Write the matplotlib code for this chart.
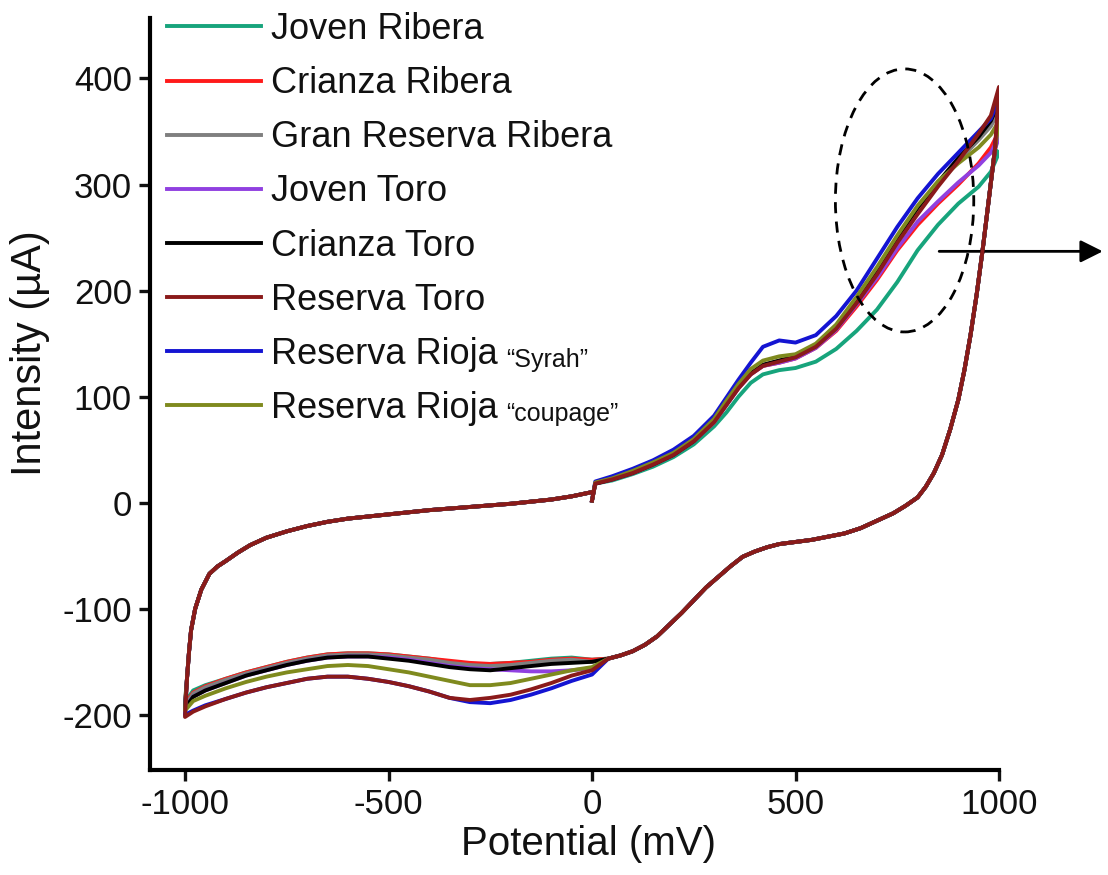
import matplotlib
matplotlib.use("Agg")
import matplotlib.pyplot as plt
from matplotlib.patches import Ellipse

plt.rcParams['font.family'] = ['Liberation Sans', 'DejaVu Sans']
plt.rcParams['axes.unicode_minus'] = False

wines = ["Joven Ribera", "Crianza Ribera", "Gran Reserva Ribera", "Joven Toro",
         "Crianza Toro", "Reserva Toro", "Reserva Rioja", "Reserva Rioja"]
label_tails = ["", "", "", "", "", "", "\u201cSyrah\u201d", "\u201ccoupage\u201d"]
colors = ["#17a47c", "#ff1a1a", "#7f7f7f", "#9040e0",
          "#000000", "#8a1a1a", "#1414d2", "#7f8a1e"]

# anodic sweep 0 -> 1000 mV
fwd_x = [0, 8, 50, 100, 150, 200, 250, 300, 330, 360, 390, 420, 460, 500,
         550, 600, 650, 700, 750, 800, 850, 900, 950, 980, 1000]
fwd_y = {
    "Joven Ribera":        [2, 18, 21, 27, 34, 43, 55, 72, 85, 100, 113, 121, 125, 127,
                            133, 145, 162, 182, 208, 238, 262, 282, 298, 312, 330],
    "Crianza Ribera":      [2, 18, 22, 28, 36, 45, 58, 76, 92, 108, 121, 129, 132, 136,
                            146, 162, 185, 210, 238, 262, 282, 300, 320, 335, 350],
    "Gran Reserva Ribera": [2, 18, 22, 28, 36, 45, 58, 77, 93, 109, 122, 130, 134, 138,
                            148, 166, 192, 218, 250, 278, 300, 322, 342, 355, 370],
    "Joven Toro":          [2, 18, 22, 28, 36, 45, 58, 76, 92, 108, 121, 129, 132, 136,
                            146, 163, 187, 212, 240, 265, 284, 302, 318, 330, 345],
    "Crianza Toro":        [2, 18, 22, 28, 36, 45, 58, 77, 93, 109, 122, 130, 134, 138,
                            148, 166, 192, 220, 250, 278, 302, 325, 345, 360, 378],
    "Reserva Toro":        [2, 18, 22, 28, 36, 45, 58, 76, 92, 108, 121, 129, 133, 137,
                            147, 164, 188, 215, 245, 272, 298, 322, 348, 365, 392],
    "Reserva Rioja S":     [2, 20, 25, 32, 40, 50, 63, 82, 99, 116, 132, 147, 153, 151,
                            158, 176, 200, 230, 260, 287, 310, 330, 350, 362, 380],
    "Reserva Rioja C":     [2, 19, 23, 30, 38, 47, 60, 79, 96, 112, 126, 134, 138, 140,
                            150, 168, 194, 222, 252, 280, 303, 320, 335, 347, 360],
}

# reverse sweep 1000 -> 0 mV (all wines overlap)
rev_x = [990, 975, 960, 945, 930, 915, 900, 880, 860, 840, 820, 800, 770, 740, 700,
         660, 620, 580, 540, 500, 460, 430, 400, 370, 340, 310, 280, 250, 220, 190,
         160, 130, 100, 70, 40]
rev_y = [333, 286, 239, 196, 158, 125, 97, 69, 45, 28, 15, 5, -3, -10, -17,
         -24, -29, -32, -35, -37, -39, -42, -46, -51, -60, -70, -80, -92, -104, -115,
         -126, -134, -140, -144, -147]

# cathodic sweep 0 -> -1000 mV
cat_x = [0, -50, -100, -150, -200, -250, -300, -350, -400, -450, -500, -550, -600,
         -650, -700, -750, -800, -850, -900, -950, -980, -1000]
cat_y = {
    "Joven Ribera":        [-148, -146, -147, -149, -151, -152, -152, -150, -147, -145, -143,
                            -142, -142, -143, -146, -150, -155, -160, -166, -172, -177, -188],
    "Crianza Ribera":      [-148, -147, -148, -150, -151, -152, -151, -149, -147, -145, -143,
                            -142, -142, -143, -146, -150, -155, -160, -166, -173, -179, -190],
    "Gran Reserva Ribera": [-150, -148, -149, -151, -153, -154, -153, -151, -148, -146, -144,
                            -143, -143, -144, -147, -151, -156, -161, -167, -174, -180, -192],
    "Joven Toro":          [-156, -158, -159, -159, -158, -157, -156, -154, -151, -148, -146,
                            -145, -145, -146, -149, -153, -158, -163, -170, -177, -183, -194],
    "Crianza Toro":        [-150, -151, -152, -154, -156, -158, -157, -155, -152, -149, -147,
                            -145, -145, -146, -149, -153, -158, -163, -170, -177, -183, -194],
    "Reserva Toro":        [-158, -163, -170, -176, -181, -184, -186, -184, -178, -173, -169,
                            -166, -164, -164, -166, -170, -174, -179, -185, -192, -197, -202],
    "Reserva Rioja S":     [-162, -168, -175, -181, -186, -189, -188, -184, -178, -173, -169,
                            -166, -164, -164, -166, -170, -174, -179, -185, -191, -196, -200],
    "Reserva Rioja C":     [-155, -158, -162, -166, -170, -172, -172, -168, -164, -160, -157,
                            -154, -153, -154, -157, -160, -164, -169, -175, -182, -187, -196],
}

# return sweep -1000 -> 0 mV (all wines overlap)
ret_x = [-995, -990, -985, -975, -960, -940, -920, -900, -870, -840, -800, -750,
         -700, -650, -600, -500, -400, -300, -200, -100, -50, 0]
ret_y = [-165, -140, -120, -100, -82, -67, -60, -55, -47, -40, -33, -27,
         -22, -18, -15, -11, -7, -4, -1, 3, 6, 10]

fig = plt.figure(figsize=(11.08, 8.75), dpi=100)
ax = fig.add_axes([150 / 1108, 105 / 875, 849 / 1108, 752 / 875])

keys = list(fwd_y.keys())
for i, k in enumerate(keys):
    xs = fwd_x + rev_x + cat_x + ret_x
    ys = fwd_y[k] + rev_y + cat_y[k] + ret_y
    ax.plot(xs, ys, color=colors[i], lw=2.8, label=wines[i],
            solid_joinstyle='round', zorder=3 + (i == 5))

# dashed ellipse and arrow
ax.add_patch(Ellipse((768, 285), 340, 248, fill=False, ec='black', lw=2,
                     ls=(0, (4, 3)), zorder=5))
ax.annotate('', xy=(1255, 237), xytext=(853, 237), annotation_clip=False,
            arrowprops=dict(arrowstyle='-|>', color='black', lw=2,
                            mutation_scale=34, shrinkA=0, shrinkB=0, clip_on=False))

ax.set_xlim(-1086, 1000)
ax.set_ylim(-252, 457)
ax.set_xticks([-1000, -500, 0, 500, 1000])
ax.set_yticks([-200, -100, 0, 100, 200, 300, 400])
for s in ['top', 'right']:
    ax.spines[s].set_visible(False)
for s in ['left', 'bottom']:
    ax.spines[s].set_linewidth(3)
ax.tick_params(direction='out', length=8, width=2.4, labelsize=25, pad=5,
               colors='#111111')

ax.set_xlabel('Potential (mV)', fontsize=29, color='#111111')
ax.set_ylabel('Intensity (\u00b5A)', fontsize=30, color='#111111')
ax.xaxis.set_label_coords(0.5165, -0.073)
ax.yaxis.set_label_coords(-0.118, 0.5545)

leg = ax.legend(loc='upper left', bbox_to_anchor=(167 / 1108, 1 - 12 / 875),
                bbox_transform=fig.transFigure, frameon=False, fontsize=26,
                borderpad=0, borderaxespad=0, handlelength=2.6,
                handletextpad=0.28, labelspacing=0.53)
for t, tail in zip(leg.get_texts(), label_tails):
    t.set_color('#111111')
    if tail:
        ax.annotate(tail, xy=(1, 0), xycoords=t, xytext=(6, 0),
                    textcoords='offset points', fontsize=18, ha='left',
                    va='bottom', color='#111111', zorder=7)

fig.savefig('out.png', dpi=100)
